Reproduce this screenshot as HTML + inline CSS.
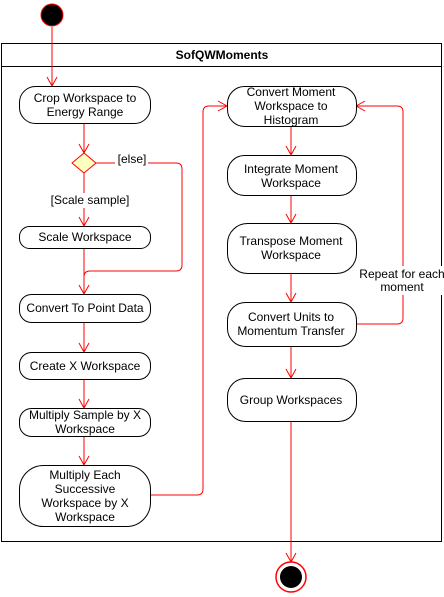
<!DOCTYPE html>
<html><head><style>body{margin:0;background:#fff}svg{display:block}text{font-family:"Liberation Sans",Arial,sans-serif;font-size:12px;fill:#000}</style></head><body>
<svg width="444" height="597" viewBox="0 0 444 597" xmlns="http://www.w3.org/2000/svg">
<defs><marker id="a" markerWidth="12" markerHeight="12" refX="10" refY="6" orient="auto" markerUnits="userSpaceOnUse"><path d="M1,1 L10,6 L1,11" fill="none" stroke="#f00" stroke-width="1"/></marker></defs>
<circle cx="52" cy="15" r="11" fill="#000" stroke="#f00" stroke-width="1"/>
<rect x="1.5" y="43.5" width="440" height="498" fill="#fff" stroke="#000"/>
<line x1="1.5" y1="66.5" x2="441.5" y2="66.5" stroke="#000"/>
<text x="222" y="59" text-anchor="middle" font-weight="bold">SofQWMoments</text>
<g fill="none" stroke="#f00" stroke-width="1">
<line x1="52" y1="27" x2="52" y2="86" marker-end="url(#a)"/>
<line x1="84" y1="123" x2="84" y2="153" marker-end="url(#a)"/>
<line x1="84" y1="173" x2="84" y2="193"/>
<line x1="84" y1="208" x2="84" y2="226" marker-end="url(#a)"/>
<path d="M96,163 H115 M148,163 H176 Q182,163 182,169 V265 Q182,271 176,271 H90 Q84,271 84,277"/>
<line x1="84" y1="248" x2="84" y2="294" marker-end="url(#a)"/>
<line x1="84" y1="322" x2="84" y2="352" marker-end="url(#a)"/>
<line x1="84" y1="379" x2="84" y2="408" marker-end="url(#a)"/>
<line x1="84" y1="436" x2="84" y2="465" marker-end="url(#a)"/>
<path d="M150,495 H197 Q203,495 203,489 V112 Q203,106 209,106 H227" marker-end="url(#a)"/>
<line x1="291" y1="126" x2="291" y2="155" marker-end="url(#a)"/>
<line x1="291" y1="195" x2="291" y2="223" marker-end="url(#a)"/>
<line x1="291" y1="273" x2="291" y2="302" marker-end="url(#a)"/>
<line x1="291" y1="346" x2="291" y2="378" marker-end="url(#a)"/>
<path d="M356,324 H397 Q403,324 403,318 V112 Q403,106 397,106 H356" marker-end="url(#a)"/>
<line x1="291" y1="421" x2="291" y2="562" marker-end="url(#a)"/>
</g>
<polygon points="84,153 96,163 84,173 72,163" fill="#ffffc0" stroke="#f00"/>
<g fill="#fff" stroke="#000">
<rect x="19.5" y="86.5" width="131" height="37" rx="16"/>
<rect x="19.5" y="226.5" width="131" height="22" rx="10"/>
<rect x="19.5" y="294.5" width="131" height="28" rx="12"/>
<rect x="19.5" y="352.5" width="131" height="27" rx="12"/>
<rect x="19.5" y="408.5" width="131" height="28" rx="12"/>
<rect x="19.5" y="465.5" width="131" height="61" rx="24"/>
<rect x="227.5" y="86.5" width="129" height="40" rx="17"/>
<rect x="227.5" y="155.5" width="129" height="40" rx="17"/>
<rect x="227.5" y="223.5" width="129" height="50" rx="20"/>
<rect x="227.5" y="302.5" width="129" height="44" rx="18"/>
<rect x="227.5" y="378.5" width="129" height="43" rx="18"/>
</g>
<rect x="360" y="266" width="82" height="29" fill="#fff"/>
<g text-anchor="middle">
<text x="85" y="102">Crop Workspace to</text><text x="85" y="116">Energy Range</text>
<text x="132" y="163" font-size="11">[else]</text>
<text x="90" y="204">[Scale sample]</text>
<text x="85" y="241">Scale Workspace</text>
<text x="85" y="312">Convert To Point Data</text>
<text x="85" y="370">Create X Workspace</text>
<text x="85" y="419">Multiply Sample by X</text><text x="85" y="433">Workspace</text>
<text x="85" y="479">Multiply Each</text><text x="85" y="493">Successive</text><text x="85" y="507">Workspace by X</text><text x="85" y="521">Workspace</text>
<text x="291" y="96">Convert Moment</text><text x="291" y="110">Workspace to</text><text x="291" y="124">Histogram</text>
<text x="291" y="173">Integrate Moment</text><text x="291" y="187">Workspace</text>
<text x="291" y="245">Transpose Moment</text><text x="291" y="259">Workspace</text>
<text x="291" y="321">Convert Units to</text><text x="291" y="335">Momentum Transfer</text>
<text x="291" y="404">Group Workspaces</text>
<text x="402" y="278" font-size="11">Repeat for each</text><text x="402" y="291" font-size="11">moment</text>
</g>
<circle cx="291" cy="577" r="15" fill="#fff" stroke="#f00" stroke-width="1.5"/>
<circle cx="291" cy="577" r="11" fill="#000"/>
</svg>
</body></html>
